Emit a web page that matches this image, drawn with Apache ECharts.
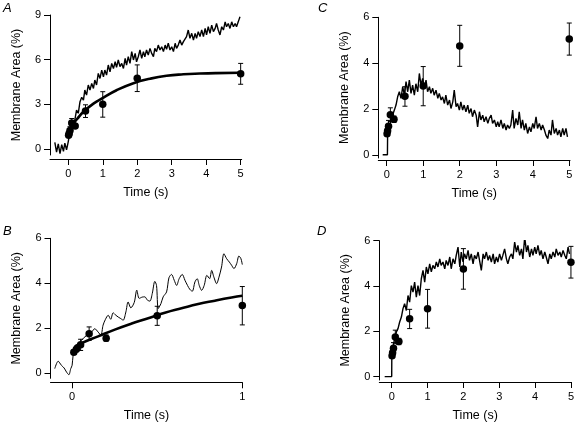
<!DOCTYPE html>
<html><head><meta charset="utf-8">
<script src="https://cdn.jsdelivr.net/npm/echarts@6/dist/echarts.min.js"></script>
<style>html,body{margin:0;padding:0;background:#fff}#c{width:577px;height:428px}</style>
</head><body><div id="c"></div>
<script>
// ---- Mean data points (same in all panels) ----
const ptT   = [0.01, 0.025, 0.05, 0.1, 0.2, 0.5, 1, 2, 5];
const ptY   = [0.92, 1.05, 1.25, 1.75, 1.55, 2.55, 3.0, 4.75, 5.05];
const ptLo  = [0.82, 0.95, 1.0, 1.45, 1.41, 2.12, 2.14, 3.86, 4.35];
const ptHi  = [1.02, 1.15, 1.5, 2.05, 1.69, 2.97, 3.85, 5.65, 5.75];

// ---- Panel A trace ----
const tA = [-0.39,-0.34,-0.29,-0.24,-0.19,-0.14,-0.1,-0.05,0,0.03,0.07,0.13,0.19,0.24,0.29,0.34,0.39,0.44,0.48,0.53,0.58,0.63,0.68,0.73,0.77,0.82,0.87,0.92,0.97,1.02,1.06,1.11,1.16,1.21,1.26,1.31,1.36,1.4,1.45,1.5,1.55,1.6,1.65,1.69,1.74,1.79,1.84,1.89,1.94,1.98,2.03,2.08,2.13,2.18,2.22,2.27,2.32,2.37,2.42,2.47,2.51,2.56,2.61,2.66,2.71,2.76,2.81,2.85,2.9,2.95,3.0,3.05,3.1,3.14,3.19,3.24,3.29,3.34,3.39,3.43,3.48,3.53,3.58,3.63,3.68,3.72,3.77,3.82,3.87,3.92,3.97,4.01,4.06,4.11,4.16,4.21,4.26,4.3,4.35,4.4,4.45,4.5,4.55,4.59,4.64,4.69,4.74,4.79,4.84,4.88,4.93,4.98];
const yA = [0.45,-0.2,0.35,-0.3,0.3,-0.15,0.4,-0.05,0.5,0.94,1.38,1.72,1.95,2.62,2.4,3.18,3.47,3.29,3.96,3.62,4.3,3.96,4.41,4.07,4.63,4.3,5.08,4.74,5.3,4.85,5.3,4.97,5.64,5.19,5.75,5.41,5.86,5.48,5.98,5.53,5.75,5.41,6.09,5.64,6.2,5.75,6.54,5.98,6.42,5.86,6.2,6.65,6.09,6.54,6.2,6.65,6.31,6.76,6.42,6.2,6.76,6.54,6.98,6.65,6.87,6.54,6.98,6.69,7.1,6.65,6.87,6.54,7.1,6.76,6.98,7.32,6.98,7.21,7.1,7.55,7.99,7.43,7.77,7.32,7.77,7.43,7.88,7.55,7.99,7.55,8.1,7.66,8.21,7.77,8.32,7.88,8.1,8.43,7.99,7.66,8.21,7.99,8.54,8.21,8.43,8.1,8.54,8.21,8.43,8.21,8.54,8.88];
// Panel A fitted curve
const fitAT = [0.05,0.1,0.25,0.44,0.73,1.02,1.4,1.89,2.37,2.85,3.34,3.82,4.3,4.98];
const fitAY = [1.5,1.6,2.0,2.5,3.05,3.45,3.95,4.42,4.72,4.92,5.02,5.07,5.1,5.12];

// ---- Panel B trace ----
const tB = [-0.102,-0.082,-0.063,-0.047,-0.033,-0.019,-0.008,0,0.006,0.016,0.035,0.055,0.075,0.094,0.114,0.133,0.153,0.169,0.182,0.196,0.212,0.227,0.241,0.257,0.271,0.286,0.3,0.316,0.329,0.345,0.365,0.38,0.394,0.412,0.427,0.443,0.457,0.471,0.486,0.496,0.506,0.522,0.535,0.555,0.569,0.584,0.6,0.614,0.629,0.647,0.663,0.678,0.692,0.706,0.722,0.735,0.747,0.761,0.776,0.792,0.808,0.82,0.833,0.849,0.863,0.878,0.892,0.908,0.924,0.937,0.951,0.967,0.98,0.992,1.0];
const yB = [0.19,0.52,0.34,0.22,0.04,-0.08,0.19,0.34,0.79,1.01,1.25,1.46,1.6,1.75,1.82,1.97,1.82,1.68,2.13,2.39,2.57,2.39,2.68,2.57,2.49,2.42,2.35,2.72,3.16,2.9,3.14,3.69,3.32,3.38,3.39,3.24,3.2,3.54,4.08,3.9,2.87,3.09,3.39,3.61,4.24,4.39,4.13,3.9,4.2,4.39,4.13,3.9,3.72,3.64,4.06,4.2,3.9,3.68,3.9,4.35,4.2,4.57,4.27,3.98,4.27,4.72,5.31,5.09,4.94,4.8,4.65,4.87,5.21,5.09,4.83];
const fitBT = [0.016,0.055,0.153,0.251,0.35,0.447,0.545,0.643,0.741,0.839,0.937,1.0];
const fitBY = [1.18,1.33,1.63,1.93,2.2,2.44,2.68,2.88,3.07,3.22,3.36,3.44];

// ---- Panel C trace ----
const tC = [-0.11,0.02,0.025,0.07,0.117,0.16,0.21,0.255,0.3,0.346,0.392,0.438,0.484,0.53,0.575,0.62,0.666,0.71,0.757,0.8,0.85,0.894,0.94,0.985,1.03,1.077,1.12,1.17,1.21,1.26,1.3,1.35,1.4,1.44,1.49,1.53,1.58,1.62,1.67,1.72,1.76,1.81,1.85,1.9,1.94,1.99,2.03,2.08,2.12,2.17,2.22,2.26,2.31,2.35,2.4,2.45,2.49,2.54,2.58,2.63,2.67,2.72,2.77,2.81,2.86,2.9,2.95,3.0,3.04,3.08,3.13,3.18,3.22,3.27,3.31,3.36,3.4,3.45,3.49,3.54,3.59,3.63,3.68,3.72,3.77,3.81,3.86,3.91,3.95,4.0,4.04,4.09,4.13,4.18,4.23,4.27,4.32,4.36,4.41,4.45,4.5,4.54,4.59,4.64,4.68,4.73,4.77,4.82,4.86,4.91,4.95];
const yC = [0,0,0.93,1.15,1.52,1.73,1.95,2.17,2.53,2.75,2.46,2.97,2.6,3.19,2.75,3.26,2.68,3.04,2.6,3.1,2.75,3.55,3.04,3.33,2.9,3.26,2.75,2.97,2.68,2.9,2.6,2.82,2.46,2.68,2.39,2.53,2.24,2.6,2.17,2.39,2.02,2.31,2.82,2.1,2.24,1.95,2.31,1.95,2.17,1.88,2.17,1.81,2.02,1.66,1.95,1.73,1.22,1.88,1.52,1.73,1.44,1.66,1.37,1.59,1.73,1.37,1.52,1.22,1.44,1.22,1.52,1.15,1.37,1.08,1.3,1.15,1.3,1.95,1.15,1.59,1.3,1.88,1.15,1.52,1.08,1.37,0.93,1.22,1.0,1.37,1.15,1.66,1.15,1.37,1.08,1.3,1.08,0.86,0.71,1.08,0.86,1.52,0.93,1.15,0.86,1.08,0.78,1.15,0.86,1.15,0.78];

// ---- Panel D trace ----
const tD = [-0.196,0,0.003,0.036,0.083,0.13,0.176,0.222,0.27,0.315,0.36,0.408,0.455,0.5,0.548,0.594,0.64,0.687,0.733,0.78,0.826,0.873,0.92,0.966,1.01,1.06,1.105,1.15,1.2,1.245,1.29,1.34,1.38,1.43,1.48,1.52,1.57,1.62,1.66,1.71,1.76,1.8,1.85,1.9,1.94,1.99,2.03,2.08,2.13,2.17,2.22,2.27,2.31,2.36,2.41,2.45,2.5,2.55,2.59,2.64,2.69,2.73,2.78,2.83,2.87,2.92,2.96,3.01,3.06,3.1,3.15,3.2,3.24,3.29,3.34,3.38,3.43,3.48,3.52,3.57,3.62,3.66,3.71,3.76,3.8,3.85,3.9,3.94,3.99,4.03,4.08,4.13,4.17,4.22,4.27,4.31,4.36,4.41,4.45,4.5,4.55,4.59,4.64,4.69,4.73,4.78,4.83,4.87,4.92,4.96];
const yD = [0,0,0.94,1.31,1.68,1.97,2.12,2.41,2.63,3.0,3.22,2.92,3.58,3.29,4.02,3.73,4.17,3.51,4.02,3.58,4.32,4.69,4.17,4.84,4.54,4.98,4.62,4.91,4.76,5.06,4.84,5.2,4.91,5.06,4.76,5.13,4.91,5.28,4.76,5.2,4.98,5.35,5.72,4.84,5.5,5.06,5.42,5.2,5.57,5.13,5.42,4.98,5.35,5.2,5.5,5.13,4.69,5.42,5.2,5.5,5.13,5.35,5.06,5.42,4.98,5.28,5.06,5.42,5.13,5.35,5.64,5.2,4.98,5.28,5.42,5.2,5.94,5.5,5.79,5.35,5.64,5.2,6.16,5.5,5.79,5.28,5.64,5.35,5.72,5.42,5.79,5.35,5.57,5.2,5.5,5.28,4.98,5.42,5.2,5.5,5.28,5.64,5.35,5.5,5.28,5.57,5.35,5.2,5.72,5.42];

// ---- Tick labels ----
const xTicks5 = [0,1,2,3,4,5];
const xTicks1 = [0,1];
const yTicksA = [0,3,6,9];
const yTicks6 = [0,2,4,6];
const panelLetters = ['A','B','C','D'];
const xTitle = 'Time (s)';
const yTitle = 'Membrane Area (%)';

const zip = (a,b) => a.map((v,i)=>[v,b[i]]);
const FONT = 'Liberation Sans, Arial, Helvetica, sans-serif';

const panels = [
  {grid:{left:50,top:15,width:191.7,height:140}, xmin:-0.53, xmax:5.03, ymin:-0.4, ymax:9, xt:xTicks5, yt:yTicksA, off:4, tmax:5},
  {grid:{left:50.5,top:238.3,width:191.8,height:140}, xmin:-0.127, xmax:1.0, ymin:-0.24, ymax:6, xt:xTicks1, yt:yTicks6, off:4, tmax:1},
  {grid:{left:378.3,top:17.3,width:191.7,height:140.7}, xmin:-0.23, xmax:5.02, ymin:-0.14, ymax:6, xt:xTicks5, yt:yTicks6, off:2, tmax:5},
  {grid:{left:379.3,top:240.7,width:191.7,height:139.3}, xmin:-0.346, xmax:5.0, ymin:-0.15, ymax:6, xt:xTicks5, yt:yTicks6, off:2, tmax:5}
];

const axisStyle = {lineStyle:{color:'#000',width:1}};
const grids=[], xAxes=[], yAxes=[], series=[];
panels.forEach((p,i)=>{
  grids.push(p.grid);
  xAxes.push({type:'value', gridIndex:i, min:p.xmin, max:p.xmax, offset:p.off,
    axisLine:{show:true,onZero:false,...axisStyle},
    axisTick:{show:true,length:6,inside:false,customValues:p.xt,lineStyle:{color:'#000'}},
    axisLabel:{customValues:p.xt,color:'#000',fontSize:11,fontFamily:FONT,margin:9},
    splitLine:{show:false},
    name:xTitle, nameLocation:'middle', nameGap:27,
    nameTextStyle:{color:'#000',fontSize:12.5,fontFamily:FONT}});
  yAxes.push({type:'value', gridIndex:i, min:p.ymin, max:p.ymax,
    axisLine:{show:true,onZero:false,...axisStyle},
    axisTick:{show:true,length:6,inside:false,customValues:p.yt,lineStyle:{color:'#000'}},
    axisLabel:{customValues:p.yt,color:'#000',fontSize:11,fontFamily:FONT,margin:9},
    splitLine:{show:false},
    name:yTitle, nameLocation:'middle', nameGap:27, nameRotate:90,
    nameTextStyle:{color:'#000',fontSize:12.5,fontFamily:FONT}});
});

const traces = [zip(tA,yA), zip(tB,yB), zip(tC,yC), zip(tD,yD)];
const fits = [zip(fitAT,fitAY), zip(fitBT,fitBY), null, null];

panels.forEach((p,i)=>{
  series.push({type:'line', xAxisIndex:i, yAxisIndex:i, data:traces[i], showSymbol:false,
    smooth: i===1 ? 0.3 : false, lineStyle:{color:'#000', width: i===1 ? 1 : 1.4}, silent:true, z:2});
  if (fits[i]) series.push({type:'line', xAxisIndex:i, yAxisIndex:i, data:fits[i], showSymbol:false,
    smooth:true, lineStyle:{color:'#000', width:2.6}, silent:true, z:3});
  const idx = ptT.map((t,k)=>k).filter(k=>ptT[k] <= p.tmax);
  series.push({type:'custom', xAxisIndex:i, yAxisIndex:i, z:4,
    data: idx.map(k=>[ptT[k], ptLo[k], ptHi[k]]),
    encode:{x:0, y:[1,2]},
    renderItem:(params, api)=>{
      const x = api.value(0);
      const a = api.coord([x, api.value(1)]);
      const b = api.coord([x, api.value(2)]);
      const w = 2.5, st = {stroke:'#000', lineWidth:1};
      return {type:'group', children:[
        {type:'line', shape:{x1:a[0],y1:a[1],x2:b[0],y2:b[1]}, style:st},
        {type:'line', shape:{x1:a[0]-w,y1:a[1],x2:a[0]+w,y2:a[1]}, style:st},
        {type:'line', shape:{x1:b[0]-w,y1:b[1],x2:b[0]+w,y2:b[1]}, style:st}
      ]};
    }});
  series.push({type:'scatter', xAxisIndex:i, yAxisIndex:i, z:5,
    data: idx.map(k=>[ptT[k], ptY[k]]), symbol:'circle', symbolSize:7.5,
    itemStyle:{color:'#000', opacity:1}, silent:true});
});

const letterPos = [[3,2],[3,225],[318,2],[317,225]];
const graphic = panelLetters.map((L,i)=>({type:'text', left:letterPos[i][0], top:letterPos[i][1],
  style:{text:L, fill:'#000', font:'italic 13px '+FONT}}));

const chart = echarts.init(document.getElementById('c'), null, {renderer:'canvas'});
chart.setOption({animation:false, backgroundColor:'#fff', grid:grids, xAxis:xAxes, yAxis:yAxes, series, graphic});
</script></body></html>
